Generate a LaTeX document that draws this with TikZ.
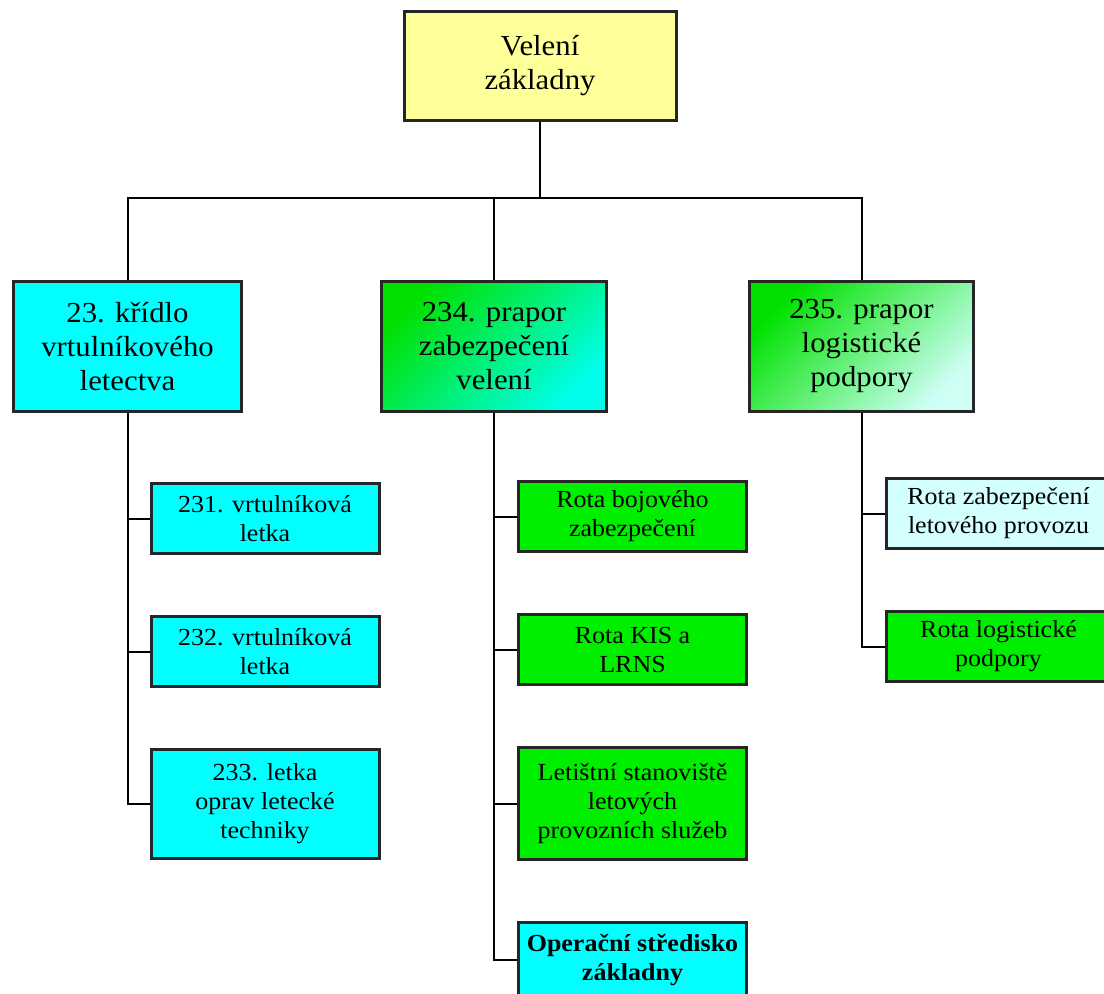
\documentclass[tikz,border=0pt]{standalone}
\usepackage{fontspec}
\setmainfont{Liberation Serif}[FakeStretch=1.06]
\usetikzlibrary{positioning}
\definecolor{velyellow}{RGB}{255,255,153}
\definecolor{boxcyan}{RGB}{0,255,255}
\definecolor{boxgreen}{RGB}{0,238,0}
\definecolor{palecyan}{RGB}{212,255,255}
\definecolor{pgreen}{RGB}{0,225,0}
\definecolor{pcyan}{RGB}{0,255,235}
\definecolor{lcyan}{RGB}{205,255,245}

\begin{document}
\begin{tikzpicture}[x=1pt,y=-1pt,
    bigbox/.style={draw=black!85,line width=3pt,align=center,inner sep=2pt,
      font=\fontsize{29}{34}\selectfont},
    subbox/.style={draw=black!85,line width=3pt,align=center,inner sep=2pt,
      minimum width=228pt,minimum height=70pt,font=\fontsize{24.5}{29}\selectfont},
    link/.style={draw=black,line width=2pt}]
\useasboundingbox (0,0) rectangle (1104,994);
\clip (0,0) rectangle (1104,994);

% top
\node[bigbox,fill=velyellow,minimum width=272pt,minimum height=109pt] (vel) at (540,66) {Velení\\základny};
\coordinate (bus) at (540,198);

% second level
\node[bigbox,fill=boxcyan,minimum width=228pt,minimum height=130pt] (kri) at (127.5,346.5) {23. křídlo\\vrtulníkového\\letectva};
\node[bigbox,top color=pgreen,bottom color=pcyan,shading angle=45,minimum width=225pt,minimum height=130pt] (p234) at (494,346.5) {234. prapor\\zabezpečení\\velení};
\node[bigbox,top color=pgreen,bottom color=lcyan,shading angle=45,minimum width=224pt,minimum height=130pt] (p235) at (861.5,346.5) {235. prapor\\logistické\\podpory};

% under 23
\node[subbox,fill=boxcyan] (l231) at (265,518.5) {231. vrtulníková\\letka};
\node[subbox,fill=boxcyan] (l232) [below=60pt of l231] {232. vrtulníková\\letka};
\node[subbox,fill=boxcyan,minimum height=109pt] (l233) [below=60pt of l232] {233. letka\\oprav letecké\\techniky};

% under 234
\node[subbox,fill=boxgreen] (rbz) at (632.5,516.5) {Rota bojového\\zabezpečení};
\node[subbox,fill=boxgreen] (kis) [below=60pt of rbz] {Rota KIS a\\LRNS};
\node[subbox,fill=boxgreen,minimum height=112pt] (lss) [below=60pt of kis] {Letištní stanoviště\\letových\\provozních služeb};
\node[subbox,fill=boxcyan,minimum height=75pt,font=\fontsize{24.5}{29}\selectfont\bfseries] (ops) [below=60pt of lss] {Operační středisko\\základny};

% under 235
\node[subbox,fill=palecyan,minimum width=224pt] (rzl) at (998.5,513.5) {Rota zabezpečení\\letového provozu};
\node[subbox,fill=boxgreen,minimum width=224pt] (rlp) [below=60pt of rzl] {Rota logistické\\podpory};

% lines
\draw[link] (vel.south) -- (bus);
\draw[link] (kri.north) |- (bus) -| (p235.north);
\draw[link] (p234.north) -- (p234.north |- bus);

\draw[link] (kri.south) |- (l233.west);
\draw[link] (l231.west) -| (kri.south);
\draw[link] (l232.west) -| (kri.south);

\draw[link] (p234.south) |- (ops.west);
\draw[link] (rbz.west) -| (p234.south);
\draw[link] (kis.west) -| (p234.south);
\draw[link] (lss.west) -| (p234.south);

\draw[link] (p235.south) |- (rlp.west);
\draw[link] (rzl.west) -| (p235.south);
\end{tikzpicture}
\end{document}
